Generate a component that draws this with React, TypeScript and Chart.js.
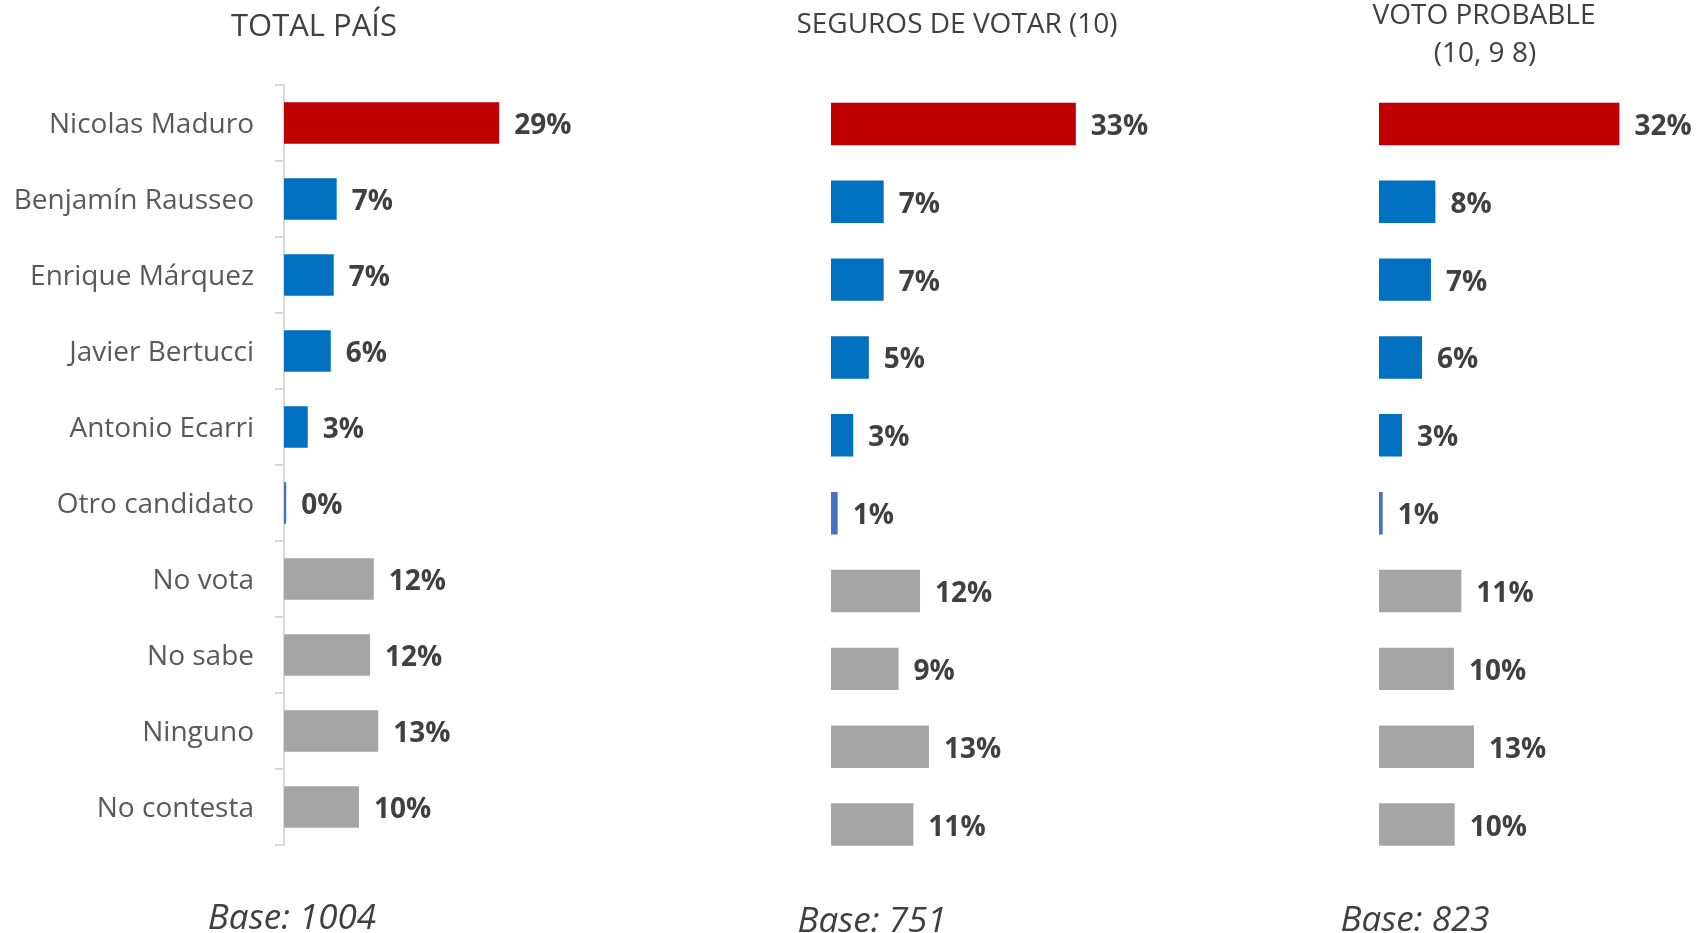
import React, { useEffect, useRef } from "react";
import { Chart, registerables } from "chart.js";

Chart.register(...registerables);

const categories = [
  "Nicolas Maduro",
  "Benjamín Rausseo",
  "Enrique Márquez",
  "Javier Bertucci",
  "Antonio Ecarri",
  "Otro candidato",
  "No vota",
  "No sabe",
  "Ninguno",
  "No contesta",
];

// bar lengths (percent)
const totalPais = [29.0, 7.1, 6.7, 6.3, 3.2, 0.3, 12.1, 11.6, 12.7, 10.1];
const segurosVotar = [33.0, 7.1, 7.1, 5.1, 3.0, 0.9, 12.0, 9.1, 13.2, 11.1];
const votoProbable = [32.4, 7.6, 7.0, 5.8, 3.1, 0.5, 11.1, 10.1, 12.8, 10.2];

// printed data labels
const totalPaisLabels = ["29%", "7%", "7%", "6%", "3%", "0%", "12%", "12%", "13%", "10%"];
const segurosVotarLabels = ["33%", "7%", "7%", "5%", "3%", "1%", "12%", "9%", "13%", "11%"];
const votoProbableLabels = ["32%", "8%", "7%", "6%", "3%", "1%", "11%", "10%", "13%", "10%"];

const panelTitles = ["TOTAL PAÍS", "SEGUROS DE VOTAR (10)", "VOTO PROBABLE", "(10, 9 8)"];
const baseLabels = ["Base: 1004", "Base: 751", "Base: 823"];

const barColors = [
  "#C00000",
  "#0070C0",
  "#0070C0",
  "#0070C0",
  "#0070C0",
  "#4472C4",
  "#A5A5A5",
  "#A5A5A5",
  "#A5A5A5",
  "#A5A5A5",
];

type TextItem = { text: string; x: number; y: number; font: string; color: string; align: CanvasTextAlign };

const textPlugin = {
  id: "panelText",
  afterDatasetsDraw(chart: any, _args: any, opts: any) {
    const ctx = chart.ctx;
    const meta = chart.getDatasetMeta(0);
    const labels: string[] = opts.labels || [];
    ctx.save();
    ctx.font = opts.labelFont;
    ctx.fillStyle = "#404040";
    ctx.textAlign = "left";
    ctx.textBaseline = "middle";
    meta.data.forEach((bar: any, i: number) => {
      ctx.fillText(labels[i], bar.x + opts.labelOffset, bar.y + 3);
    });
    ctx.restore();
  },
  afterDraw(chart: any, _args: any, opts: any) {
    const ctx = chart.ctx;
    const items: TextItem[] = opts.texts || [];
    ctx.save();
    ctx.textBaseline = "middle";
    items.forEach((t) => {
      ctx.font = t.font;
      ctx.fillStyle = t.color;
      ctx.textAlign = t.align;
      ctx.fillText(t.text, t.x, t.y);
    });
    ctx.restore();
  },
};

type PanelProps = {
  left: number;
  width: number;
  values: number[];
  labels: string[];
  showAxis: boolean;
  padding: { left: number; right: number; top: number; bottom: number };
  texts: TextItem[];
};

const H = 933;
const XMAX = 40;

function Panel({ left, width, values, labels, showAxis, padding, texts }: PanelProps) {
  const ref = useRef<HTMLCanvasElement | null>(null);
  useEffect(() => {
    if (!ref.current) return;
    const yScale: any = {
      display: showAxis,
      grid: {
        display: true,
        drawOnChartArea: false,
        drawTicks: true,
        tickLength: 9,
        color: "#D9D9D9",
        lineWidth: 2,
      },
      border: { display: true, color: "#D9D9D9", width: 2 },
      ticks: {
        color: "#595959",
        font: { family: "'Open Sans'", size: 28 },
        padding: 21,
        labelOffset: 2,
      },
    };
    if (showAxis) {
      yScale.afterFit = (s: any) => {
        s.width = 284 - padding.left;
      };
    }
    const chart = new Chart(ref.current, {
      type: "bar",
      data: {
        labels: categories,
        datasets: [
          {
            data: values,
            backgroundColor: barColors,
            barPercentage: 0.545,
            categoryPercentage: 1,
          },
        ],
      },
      options: {
        indexAxis: "y",
        animation: false,
        responsive: false,
        maintainAspectRatio: false,
        events: [],
        layout: { padding },
        plugins: {
          legend: { display: false },
          tooltip: { enabled: false },
          title: { display: false },
          panelText: {
            labels,
            labelFont: "bold 28px 'Open Sans'",
            labelOffset: 15,
            texts,
          },
        } as any,
        scales: {
          x: { display: false, min: 0, max: XMAX },
          y: yScale,
        },
      },
      plugins: [textPlugin],
    });
    return () => chart.destroy();
  }, []);
  return (
    <canvas
      ref={ref}
      width={width}
      height={H}
      style={{ position: "absolute", left, top: 0, width, height: H }}
    />
  );
}

const PX_PER_PCT = 7.42;
const AREA_W = XMAX * PX_PER_PCT;

export default function App() {
  const p1Left = 0, p1W = 600;
  const p2Left = 700, p2W = 480;
  const p3Left = 1200, p3W = 498;
  const p2AreaLeft = 831 - p2Left;
  const p3AreaLeft = 1379 - p3Left;
  return (
    <div style={{ position: "absolute", left: 0, top: 0, width: 1698, height: 933, background: "#fff", overflow: "hidden" }}>
      <Panel
        left={p1Left}
        width={p1W}
        values={totalPais}
        labels={totalPaisLabels}
        showAxis={true}
        padding={{ left: 0, right: p1W - 284 - AREA_W, top: 85, bottom: H - 845 }}
        texts={[
          { text: panelTitles[0], x: 314, y: 27, font: "31px 'Open Sans'", color: "#404040", align: "center" },
          { text: baseLabels[0], x: 292, y: 919, font: "italic 35px 'Open Sans'", color: "#404040", align: "center" },
        ]}
      />
      <Panel
        left={p2Left}
        width={p2W}
        values={segurosVotar}
        labels={segurosVotarLabels}
        showAxis={false}
        padding={{ left: p2AreaLeft, right: p2W - p2AreaLeft - AREA_W, top: 85, bottom: H - 863.5 }}
        texts={[
          { text: panelTitles[1], x: 957 - p2Left, y: 25, font: "28px 'Open Sans'", color: "#404040", align: "center" },
          { text: baseLabels[1], x: 872 - p2Left, y: 922, font: "italic 35px 'Open Sans'", color: "#404040", align: "center" },
        ]}
      />
      <Panel
        left={p3Left}
        width={p3W}
        values={votoProbable}
        labels={votoProbableLabels}
        showAxis={false}
        padding={{ left: p3AreaLeft, right: p3W - p3AreaLeft - AREA_W, top: 85, bottom: H - 863.5 }}
        texts={[
          { text: panelTitles[2], x: 1484 - p3Left, y: 16, font: "28px 'Open Sans'", color: "#404040", align: "center" },
          { text: panelTitles[3], x: 1485 - p3Left, y: 54, font: "28px 'Open Sans'", color: "#404040", align: "center" },
          { text: baseLabels[2], x: 1415 - p3Left, y: 921, font: "italic 35px 'Open Sans'", color: "#404040", align: "center" },
        ]}
      />
    </div>
  );
}
